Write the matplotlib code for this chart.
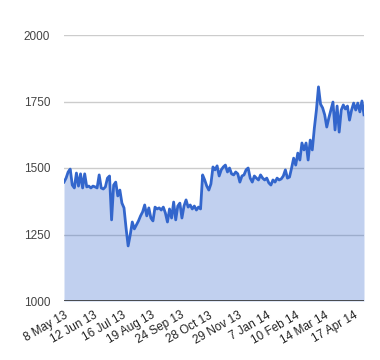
import matplotlib
matplotlib.use("Agg")
import matplotlib.pyplot as plt

values = [
    1447, 1462, 1485, 1496, 1436, 1425, 1481, 1432, 1478, 1425,
    1478, 1429, 1432, 1425, 1432, 1429, 1425, 1474, 1425, 1421,
    1429, 1462, 1470, 1305, 1436, 1447, 1395, 1417, 1368, 1350,
    1274, 1207, 1248, 1297, 1271, 1286, 1301, 1320, 1335, 1361,
    1320, 1350, 1312, 1301, 1353, 1346, 1350, 1342, 1353, 1331,
    1297, 1346, 1312, 1372, 1305, 1357, 1368, 1312, 1357, 1380,
    1353, 1361, 1346, 1357, 1342, 1353, 1346, 1474, 1455, 1432,
    1417, 1440, 1504, 1493, 1508, 1470, 1493, 1504, 1511, 1485,
    1500, 1478, 1474, 1485, 1478, 1447, 1470, 1474, 1493, 1500,
    1462, 1447, 1470, 1462, 1455, 1474, 1462, 1455, 1462, 1444,
    1436, 1455, 1447, 1462, 1455, 1459, 1470, 1493, 1462, 1466,
    1500, 1537, 1511, 1556, 1530, 1594, 1568, 1594, 1530, 1605,
    1568, 1650, 1718, 1805, 1740, 1726, 1700, 1654, 1688, 1718,
    1748, 1643, 1733, 1635, 1718, 1737, 1722, 1733, 1680, 1718,
    1744, 1718, 1744, 1711, 1752, 1700,
]
tick_labels = ["8 May 13", "12 Jun 13", "16 Jul 13", "19 Aug 13", "24 Sep 13",
               "28 Oct 13", "29 Nov 13", "7 Jan 14", "10 Feb 14", "14 Mar 14",
               "17 Apr 14"]
tick_step = 14
y_ticks = [1000, 1250, 1500, 1750, 2000]

plt.rcParams['font.family'] = ['Liberation Sans', 'DejaVu Sans']

fig = plt.figure(figsize=(3.8, 3.6), dpi=100)
ax = fig.add_axes([64/380, 1-301/360, 300/380, 266/360])

x = list(range(len(values)))
line_color = '#3366CC'
for yv in y_ticks[1:]:
    ax.axhline(yv, color='#cccccc', lw=1, zorder=0)
ax.fill_between(x, 1000, values, color=line_color, alpha=0.3, lw=0, zorder=1)
ax.plot(x, values, color=line_color, lw=2, zorder=3, solid_joinstyle='round')
ax.axhline(1000, color='#333333', lw=1.2, zorder=4)

ax.set_xlim(0, len(values) - 1)
ax.set_ylim(1000, 2000)
ax.set_yticks(y_ticks)
ax.set_yticklabels([str(v) for v in y_ticks], fontsize=8.5, color='#444444')
xt = [i * tick_step for i in range(len(tick_labels))]
ax.set_xticks(xt)
ax.set_xticklabels(tick_labels, fontsize=8.5, color='#222222', rotation=30,
                   ha='right', rotation_mode='anchor')
ax.tick_params(axis='both', length=0)
ax.tick_params(axis='y', pad=10)
ax.tick_params(axis='x', pad=6)
for s in ax.spines.values():
    s.set_visible(False)

fig.savefig('out.png', dpi=100)
